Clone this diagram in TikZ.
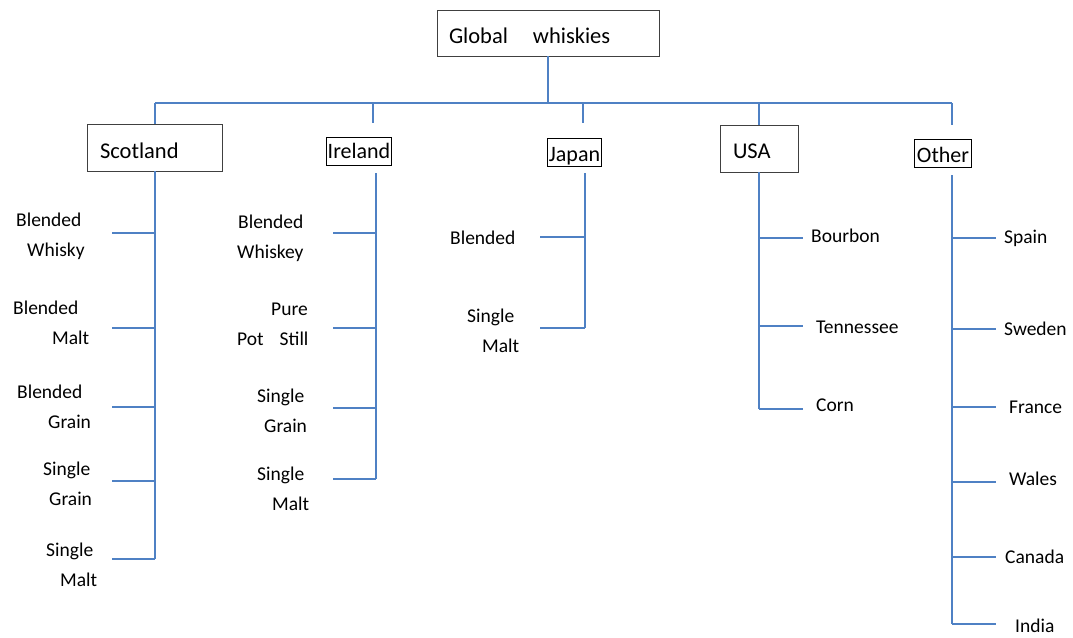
\documentclass[tikz,border=0pt]{standalone}
\usepackage{fontspec}
\setmainfont{Carlito}
\definecolor{lineblue}{RGB}{79,129,196}
\definecolor{boxgray}{RGB}{64,64,64}
\newcommand{\twoline}[2]{\begin{tabular}[t]{@{}l@{}}#1\\#2\end{tabular}}
\begin{document}
\begin{tikzpicture}[x=1pt,y=-1pt,
  conn/.style={draw=lineblue, line width=1.1pt},
  thinbox/.style={draw=boxgray, line width=0.8pt, font=\fontsize{22.5}{27}\selectfont, inner ysep=0pt, align=left},
  boldbox/.style={draw=black, line width=1.5pt, font=\fontsize{22}{27}\selectfont, inner sep=0pt},
  leaf/.style={font=\fontsize{19.5}{30.5}\selectfont, anchor=base west, inner sep=0pt}]
\useasboundingbox (0,0) rectangle (1073,637);

% title boxes
\node[thinbox, text width=198pt, inner xsep=12pt, minimum height=46pt, text height=20pt, text depth=0pt] (global) at (548,33) {Global\hspace{25pt}whiskies};
\node[thinbox, text width=109pt, inner xsep=13pt, minimum height=47pt, text height=21pt, text depth=0pt] (scotland) at (154.5,147.5) {Scotland};
\node[boldbox, minimum width=65pt, minimum height=28pt, text height=16pt, text depth=3pt] (ireland) at (359,151.5) {Ireland};
\node[boldbox, minimum width=54pt, minimum height=28pt, text height=17pt, text depth=0pt] (japan) at (574.5,152.5) {Japan};
\node[thinbox, text width=52pt, inner xsep=13pt, minimum height=47pt, text height=19pt, text depth=0pt] (usa) at (759,148.5) {USA};
\node[boldbox, minimum width=57pt, minimum height=28pt, text height=17pt, text depth=0pt] (other) at (943,153.5) {Other};

% bus
\coordinate (gdrop) at (548,103);
\coordinate (busL) at (155,103);
\coordinate (busR) at (952,103);
\coordinate (irT) at (373,103); \coordinate (irB) at (373,123);
\coordinate (jpT) at (583,103); \coordinate (jpB) at (583,123);
\coordinate (usT) at (759,103);
\coordinate (otB) at (952,125);
\draw[conn] (global.south) -- (gdrop);
\draw[conn] (busL) -- (busR);
\draw[conn] (busL) -- (busL |- scotland.north);
\draw[conn] (irT) -- (irB);
\draw[conn] (jpT) -- (jpB);
\draw[conn] (usT) -- (usa.north);
\draw[conn] (busR) -- (otB);

% Scotland
\coordinate (sc1) at (155,233); \coordinate (scL1) at (112,233);
\coordinate (sc2) at (155,328); \coordinate (scL2) at (112,328);
\coordinate (sc3) at (155,407); \coordinate (scL3) at (112,407);
\coordinate (sc4) at (155,481); \coordinate (scL4) at (112,481);
\coordinate (sc5) at (155,559); \coordinate (scL5) at (112,559);
\draw[conn] (scotland.south -| sc1) -- (sc5);
\foreach \i in {1,...,5} {\draw[conn] (scL\i) -- (sc\i);}
\node[leaf] (scw1) at (16,226) {\twoline{Blended}{\hspace*{11pt}Whisky}};
\node[leaf] (scw2) at (13,314) {\twoline{Blended}{\hspace*{39pt}Malt}};
\node[leaf] (scw3) at (17,398) {\twoline{Blended}{\hspace*{31pt}Grain}};
\node[leaf] (scw4) at (43,475) {\twoline{Single}{\hspace*{6pt}Grain}};
\node[leaf] (scw5) at (46,556) {\twoline{Single}{\hspace*{14pt}Malt}};

% Ireland
\coordinate (irS) at (376,173);
\coordinate (ir1) at (376,233); \coordinate (irL1) at (333,233);
\coordinate (ir2) at (376,328); \coordinate (irL2) at (333,328);
\coordinate (ir3) at (376,408); \coordinate (irL3) at (333,408);
\coordinate (ir4) at (376,479); \coordinate (irL4) at (333,479);
\draw[conn] (irS) -- (ir4);
\foreach \i in {1,...,4} {\draw[conn] (irL\i) -- (ir\i);}
\node[leaf] (irw1) at (237,228) {\twoline{\hspace*{1pt}Blended}{Whiskey}};
\node[leaf] (irw2) at (237,315) {\twoline{\hspace*{34pt}Pure}{Pot\hspace{16pt}Still}};
\node[leaf] (irw3) at (257,402) {\twoline{Single}{\hspace*{7pt}Grain}};
\node[leaf] (irw4) at (257,480) {\twoline{Single}{\hspace*{15pt}Malt}};

% Japan
\coordinate (jpS) at (585,173);
\coordinate (jp1) at (585,237); \coordinate (jpL1) at (540,237);
\coordinate (jp2) at (585,328); \coordinate (jpL2) at (540,328);
\draw[conn] (jpS) -- (jp2);
\foreach \i in {1,2} {\draw[conn] (jpL\i) -- (jp\i);}
\node[leaf] (jpw1) at (450,244) {Blended};
\node[leaf] (jpw2) at (467,322) {\twoline{Single}{\hspace*{15pt}Malt}};

% USA
\coordinate (us1) at (759,238); \coordinate (usR1) at (803,238);
\coordinate (us2) at (759,326); \coordinate (usR2) at (803,326);
\coordinate (us3) at (759,409); \coordinate (usR3) at (803,409);
\draw[conn] (usa.south) -- (us3);
\foreach \i in {1,2,3} {\draw[conn] (us\i) -- (usR\i);}
\node[leaf] (usw1) at (811,242) {Bourbon};
\node[leaf] (usw2) at (816,333) {Tennessee};
\node[leaf] (usw3) at (816,411) {Corn};

% Other
\coordinate (otS) at (952,175);
\coordinate (ot1) at (952,238); \coordinate (otR1) at (996,238);
\coordinate (ot2) at (952,329); \coordinate (otR2) at (996,329);
\coordinate (ot3) at (952,407); \coordinate (otR3) at (996,407);
\coordinate (ot4) at (952,482); \coordinate (otR4) at (996,482);
\coordinate (ot5) at (952,557); \coordinate (otR5) at (996,557);
\coordinate (ot6) at (952,624); \coordinate (otR6) at (996,624);
\draw[conn] (otS) -- (ot6);
\foreach \i in {1,...,6} {\draw[conn] (ot\i) -- (otR\i);}
\node[leaf] (otw1) at (1004,243) {Spain};
\node[leaf] (otw2) at (1004,335) {Sweden};
\node[leaf] (otw3) at (1009,413) {France};
\node[leaf] (otw4) at (1009,485) {Wales};
\node[leaf] (otw5) at (1005,563) {Canada};
\node[leaf] (otw6) at (1015,632) {India};
\end{tikzpicture}
\end{document}
